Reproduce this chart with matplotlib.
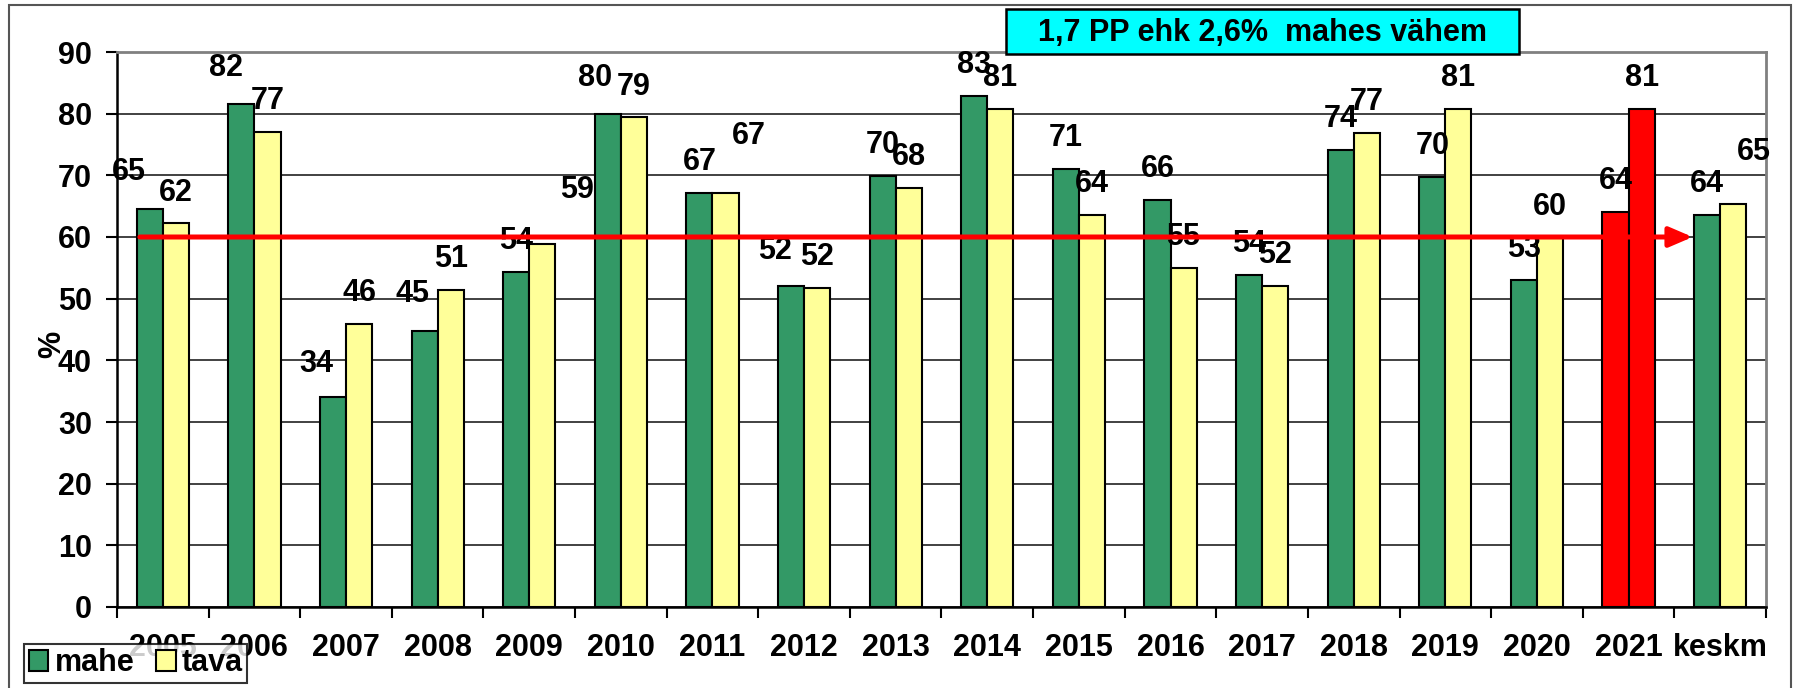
import numpy as np
import matplotlib
matplotlib.use('Agg')  # no display in the sandbox

import matplotlib.pyplot as plt
from matplotlib.patches import Rectangle, Patch

# chart data
categories = ['2005', '2006', '2007', '2008', '2009', '2010', '2011', '2012', '2013',
              '2014', '2015', '2016', '2017', '2018', '2019', '2020', '2021', 'keskm']
mahe = [64.6, 81.6, 34.0, 44.7, 54.4, 80.0, 67.1, 52.1, 69.9,
        82.9, 71.0, 66.0, 53.9, 74.1, 69.8, 53.0, 64.1, 63.6]
tava = [62.2, 77.1, 45.9, 51.4, 58.8, 79.4, 67.1, 51.8, 68.0,
        80.8, 63.6, 55.0, 52.1, 76.9, 80.8, 59.8, 80.8, 65.3]
series_names = ['mahe', 'tava']
highlight = '2021'
reference_level = 60
note = '1,7 PP ehk 2,6%  mahes vähem'
y_label = '%'

# label placement tweaks (dx in category units, extra dy in %), as in the original
mahe_label_shift = {0: (-0.23, 0.9), 1: (-0.17, 0.8), 2: (-0.18, 0.4), 3: (-0.13, 1.0),
                    5: (-0.14, 0.8), 7: (-0.17, 0.6)}
tava_label_shift = {4: (0.38, 3.9), 6: (0.25, 4.2), 17: (0.23, 3.5)}

GREEN = '#339966'
YELLOW = '#FFFF99'
RED = '#FF0000'

plt.rcParams['font.family'] = ['Liberation Sans', 'DejaVu Sans']
plt.rcParams['font.weight'] = 'bold'
FS = 22

fig = plt.figure(figsize=(17.95, 6.88), dpi=100)
ax = fig.add_axes([117 / 1795, 1 - 607 / 688, (1766 - 117) / 1795, (607 - 52) / 688])

x = np.arange(len(categories))
w = 0.285
mahe_colors = [RED if c == highlight else GREEN for c in categories]
tava_colors = [RED if c == highlight else YELLOW for c in categories]
ax.bar(x - w / 2, mahe, w, color=mahe_colors, edgecolor='black', linewidth=1.5, zorder=3)
ax.bar(x + w / 2, tava, w, color=tava_colors, edgecolor='black', linewidth=1.5, zorder=3)

# value labels
for vals, sign, shifts in ((mahe, -1, mahe_label_shift), (tava, 1, tava_label_shift)):
    for i, v in enumerate(vals):
        dx, dy = shifts.get(i, (0, 0))
        ax.text(x[i] + sign * w / 2 + dx, v + 5 + dy, f'{v:.0f}', ha='center', va='center',
                fontsize=FS, fontweight='bold', zorder=4)

# red reference arrow
ax.annotate('', xy=(len(categories) - 1 - 0.3, reference_level), xytext=(-0.25, reference_level),
            arrowprops=dict(arrowstyle='-|>,head_length=1.4,head_width=0.6', mutation_scale=10,
                            color=RED, lw=3.6, shrinkA=0, shrinkB=0), zorder=5)

ax.set_xlim(-0.5, len(categories) - 0.5)
ax.set_ylim(0, 90)
ax.set_yticks(np.arange(0, 91, 10))
ax.yaxis.grid(True, color='#333333', linewidth=1.3, zorder=0)
ax.get_ygridlines()[-1].set_visible(False)
ax.set_axisbelow(True)

ax.set_xticks(np.arange(-0.5, len(categories)), labels=[])
ax.set_xticks(x, labels=categories, minor=True)
ax.tick_params(axis='x', which='major', length=8, width=1.5, color='black')
ax.tick_params(axis='x', which='minor', length=0, pad=19, labelsize=FS)
ax.tick_params(axis='y', length=8, width=1.5, pad=10, labelsize=FS)

for s in ('left', 'bottom'):
    ax.spines[s].set_color('black')
    ax.spines[s].set_linewidth(1.8)
for s in ('top', 'right'):
    ax.spines[s].set_color('#808080')
    ax.spines[s].set_linewidth(2)

fig.text(0.029, 0.50, y_label, rotation=90, ha='center', va='center', fontsize=FS, fontweight='bold')

# annotation box
fig.add_artist(Rectangle((1006 / 1795, 1 - 54 / 688), 513 / 1795, 45 / 688, transform=fig.transFigure,
                         facecolor='#00FFFF', edgecolor='black', linewidth=1.8, zorder=6))
fig.text(1262 / 1795, 1 - 33 / 688, note, ha='center', va='center', fontsize=FS,
         fontweight='bold', zorder=7)

# outer frame
fig.add_artist(Rectangle((9 / 1795, -0.05), 1782 / 1795, 1.05 - 5 / 688, transform=fig.transFigure,
                         facecolor='none', edgecolor='#555555', linewidth=1.5, zorder=1))

handles = [Patch(facecolor=GREEN, edgecolor='black', linewidth=1.5),
           Patch(facecolor=YELLOW, edgecolor='black', linewidth=1.5)]
leg = fig.legend(handles, series_names, loc='lower left', bbox_to_anchor=(24 / 1795, 5 / 688),
                 ncol=2, fontsize=FS, frameon=True, fancybox=False, borderpad=0.15,
                 handlelength=0.65, handleheight=0.65, handletextpad=0.2, columnspacing=0.7,
                 borderaxespad=0)
leg.get_frame().set_edgecolor('black')
leg.get_frame().set_linewidth(1.5)

fig.savefig('out.png', dpi=100, facecolor='white')
